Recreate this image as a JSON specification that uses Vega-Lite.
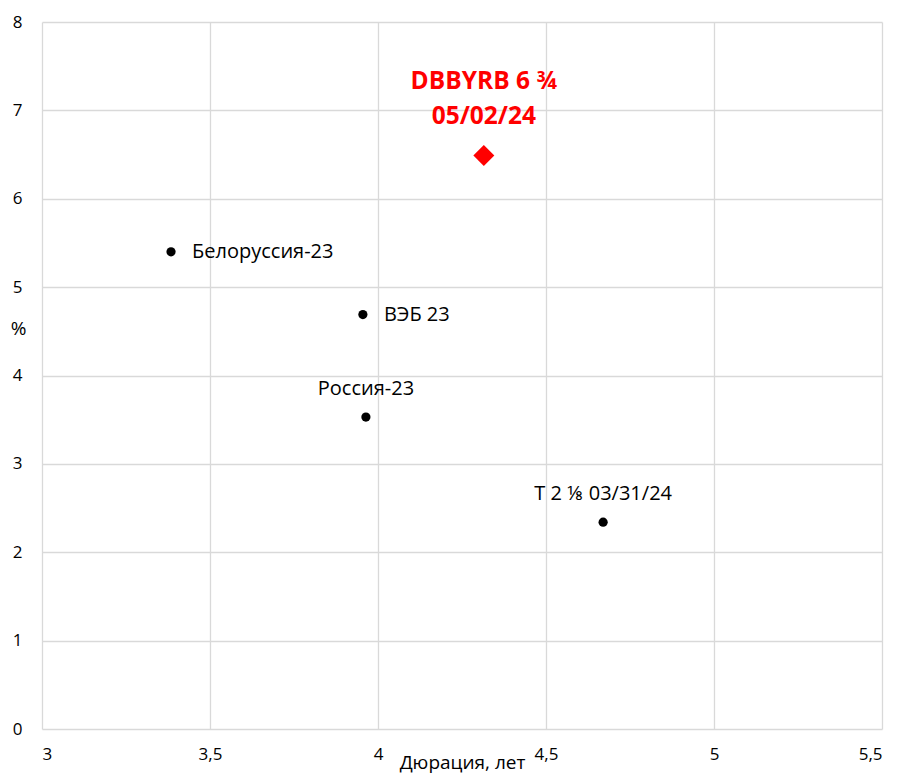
{
  "$schema": "https://vega.github.io/schema/vega-lite/v6.json",
  "width": 840,
  "height": 707,
  "autosize": "none",
  "padding": {"left": 42, "top": 22, "right": 16, "bottom": 44},
  "config": {
    "view": {"stroke": null},
    "font": "Open Sans",
    "axis": {"labelFont": "Open Sans", "titleFont": "Open Sans", "labelColor": "#000", "titleColor": "#000", "labelFontSize": 17, "titleFontSize": 19, "titleFontWeight": "normal", "gridColor": "#d9d9d9", "gridWidth": 1.3, "domain": false, "ticks": false}
  },
  "data": {"values": [
    {"dur": 3.384, "yld": 5.40, "label": "Белоруссия-23", "grp": "right"},
    {"dur": 3.955, "yld": 4.69, "label": "ВЭБ 23", "grp": "right"},
    {"dur": 3.964, "yld": 3.53, "label": "Россия-23", "grp": "above"},
    {"dur": 4.67, "yld": 2.34, "label": "T 2 ⅛ 03/31/24", "grp": "above"},
    {"dur": 4.315, "yld": 6.49, "label": "DBBYRB 6 ¾\n05/02/24", "grp": "main"}
  ]},
  "encoding": {
    "x": {"field": "dur", "type": "quantitative", "scale": {"domain": [3, 5.5], "nice": false, "zero": false},
      "axis": {"values": [3, 3.5, 4, 4.5, 5, 5.5], "format": ",.1~f", "formatType": "number", "labelExpr": "replace(datum.label, '.', ',')", "labelPadding": 17, "title": "Дюрация, лет", "titleY": 39, "titleBaseline": "alphabetic"}},
    "y": {"field": "yld", "type": "quantitative", "scale": {"domain": [0, 8], "nice": false},
      "axis": {"values": [0, 1, 2, 3, 4, 5, 6, 7, 8], "labelPadding": 20, "title": "%", "titleAngle": 0, "titleX": -24, "titleY": 306, "titleBaseline": "middle", "titleAlign": "center"}}
  },
  "layer": [
    {"transform": [{"filter": "datum.grp != 'main'"}], "mark": {"type": "point", "shape": "circle", "filled": true, "color": "#000", "size": 85, "opacity": 1}},
    {"transform": [{"filter": "datum.grp == 'main'"}], "mark": {"type": "point", "shape": "diamond", "filled": true, "color": "#ff0000", "size": 440, "opacity": 1}},
    {"transform": [{"filter": "datum.grp == 'right'"}], "mark": {"type": "text", "align": "left", "baseline": "middle", "dx": 21, "fontSize": 20, "color": "#000"}, "encoding": {"text": {"field": "label"}}},
    {"transform": [{"filter": "datum.grp == 'above'"}], "mark": {"type": "text", "align": "center", "baseline": "middle", "dy": -28, "fontSize": 20, "color": "#000"}, "encoding": {"text": {"field": "label"}}},
    {"transform": [{"filter": "datum.grp == 'main'"}], "mark": {"type": "text", "align": "center", "baseline": "middle", "dy": -73, "lineHeight": 35, "lineBreak": "\n", "fontSize": 24.5, "fontWeight": "bold", "color": "#ff0000"}, "encoding": {"text": {"field": "label"}}}
  ]
}
